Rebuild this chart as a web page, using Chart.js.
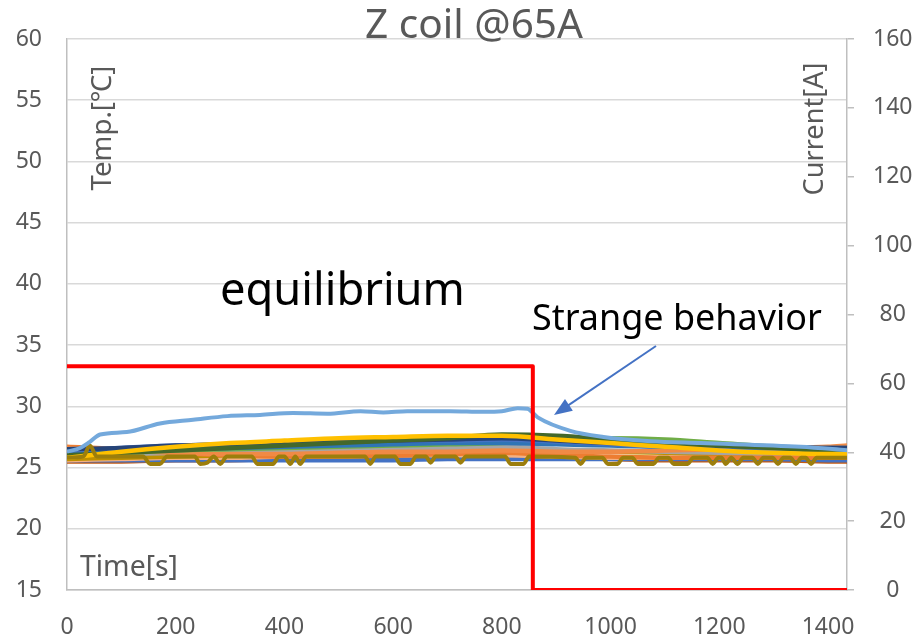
<!DOCTYPE html>
<html><head><meta charset="utf-8">
<script src="https://cdn.jsdelivr.net/npm/chart.js"></script>
<style>html,body{margin:0;padding:0;background:#fff}#wrap{width:920px;height:638px}</style>
</head><body><div id="wrap"><canvas id="c" width="920" height="638"></canvas></div>
<script>
// ---------- data ----------
const TITLE = "Z coil @65A";
const TEMP_LABEL = "Temp.[℃]";
const CURRENT_LABEL = "Current[A]";
const TIME_LABEL = "Time[s]";
const NOTE_EQ = "equilibrium";
const NOTE_STRANGE = "Strange behavior";

const xTicks = [0, 200, 400, 600, 800, 1000, 1200, 1400];
const X_MAX = 1435;

// common sampling times for the cluster of thermometers
const T = [0, 100, 200, 300, 400, 500, 600, 700, 800, 900, 1000, 1100, 1200, 1300, 1400, 1435];
const sYellow    = [25.8, 26.3, 26.7, 27.0, 27.2, 27.4, 27.5, 27.6, 27.6, 27.3, 27.0, 26.7, 26.4, 26.2, 26.1, 26.1];
const sBlue      = [26.4, 26.6, 26.8, 26.9, 27.0, 27.1, 27.2, 27.2, 27.3, 27.1, 26.9, 26.7, 26.6, 26.5, 26.5, 26.5];
const sDarkBlue  = [26.5, 26.6, 26.8, 26.9, 27.0, 27.1, 27.2, 27.3, 27.4, 27.2, 27.0, 26.9, 26.8, 26.7, 26.6, 26.6];
const sGreen     = [26.1, 26.2, 26.4, 26.5, 26.6, 26.7, 26.8, 26.9, 27.0, 27.3, 27.4, 27.3, 27.0, 26.7, 26.5, 26.5];
const sDarkGreen = [26.0, 26.2, 26.4, 26.6, 26.8, 27.0, 27.2, 27.4, 27.7, 27.6, 27.3, 27.0, 26.8, 26.6, 26.4, 26.4];
const sGray      = [26.0, 26.1, 26.2, 26.3, 26.3, 26.4, 26.5, 26.6, 26.7, 26.5, 26.4, 26.3, 26.2, 26.1, 26.1, 26.1];
const sGold      = [25.7, 25.8, 25.9, 26.0, 26.1, 26.2, 26.3, 26.4, 26.5, 26.4, 26.3, 26.2, 26.1, 26.0, 26.0, 26.0];
const sOrange    = [26.7, 26.5, 26.2, 26.0, 25.9, 25.9, 26.0, 26.1, 26.2, 26.0, 25.9, 25.8, 25.8, 25.8, 25.8, 25.8];
const sSalmon    = [25.6, 25.7, 25.8, 25.8, 25.9, 25.9, 26.0, 26.0, 26.0, 25.9, 25.8, 25.8, 25.8, 25.8, 25.8, 25.8];
const sRust      = [25.5, 25.5, 25.6, 25.6, 25.7, 25.7, 25.8, 25.8, 25.9, 25.8, 25.7, 25.6, 25.6, 25.6, 25.5, 25.5];
const sLtOrange  = [26.6, 26.4, 26.2, 26.1, 26.1, 26.2, 26.3, 26.3, 26.4, 26.3, 26.3, 26.4, 26.5, 26.6, 26.7, 26.8];
const sMidBlue   = [26.3, 26.4, 26.5, 26.6, 26.7, 26.8, 26.9, 27.0, 27.0, 26.9, 26.8, 26.7, 26.7, 26.6, 26.6, 26.6];
const sLowBlue   = [25.6, 25.6, 25.6, 25.6, 25.6, 25.6, 25.6, 25.7, 25.7, 25.7, 25.7, 25.7, 25.7, 25.7, 25.6, 25.6];

// the thermometer with the strange behaviour
const strangeT = [0, 24, 42, 61, 110, 171, 232, 295, 355, 416, 479, 540, 582, 626, 705, 766, 800, 829, 847, 866, 926, 987, 1074, 1166, 1350, 1437];
const strangeV = [26.3, 26.6, 27.1, 27.7, 27.9, 28.6, 28.9, 29.2, 29.3, 29.45, 29.4, 29.6, 29.5, 29.6, 29.6, 29.55, 29.6, 29.85, 29.8, 29.1, 28.0, 27.5, 27.15, 27.0, 26.7, 26.4];

// the olive thermometer with dips
const oliveT = [0, 30, 42, 55, 140, 153, 171, 184, 235, 245, 258, 270, 282, 294,
  340, 350, 365, 379, 390, 400, 411, 420, 429, 440, 548, 558, 568, 603, 613, 632, 642,
  660, 669, 678, 714, 724, 734, 806, 816, 840, 850,
  935, 945, 955, 985, 995, 1013, 1023, 1040, 1050, 1079, 1089, 1106, 1116, 1142, 1152,
  1178, 1188, 1198, 1204, 1212, 1222, 1234, 1244, 1261, 1271, 1281, 1298, 1308, 1318,
  1331, 1341, 1351, 1359, 1369, 1379, 1435];
const oliveV = [25.8, 25.9, 26.8, 25.9, 25.9, 25.3, 25.3, 25.9, 25.9, 25.3, 25.4, 25.9, 25.3, 25.9,
  25.9, 25.3, 25.3, 25.3, 25.9, 25.9, 25.3, 25.9, 25.3, 25.9, 25.9, 25.3, 25.9, 25.9, 25.3, 25.3, 25.9,
  25.9, 25.4, 25.9, 25.9, 25.4, 25.9, 25.9, 25.3, 25.3, 25.9,
  25.8, 25.3, 25.8, 25.8, 25.3, 25.3, 25.8, 25.8, 25.3, 25.3, 25.8, 25.8, 25.3, 25.3, 25.8,
  25.8, 25.3, 25.8, 25.8, 25.3, 25.8, 25.3, 25.8, 25.8, 25.3, 25.8, 25.8, 25.3, 25.8,
  25.8, 25.3, 25.8, 25.8, 25.3, 25.8, 25.8];

// coil current
const currentT = [0, 857, 857, 1435];
const currentV = [65, 65, 0, 0];

// ---------- chart ----------
const FONT = "'Noto Sans', 'Noto Sans CJK JP', sans-serif";
const GREY_TXT = '#595959';
const zip = (xs, ys) => xs.map((x, i) => ({ x: x, y: ys[i] }));

const cluster = [
  [sRust, '#C55A11'], [sLowBlue, '#4472C4'], [sSalmon, '#F4B183'], [sGold, '#BF9000'],
  [sGray, '#A5A5A5'], [sOrange, '#ED7D31'], [sLtOrange, '#F08A45'], [sGreen, '#70AD47'],
  [sMidBlue, '#2E75B6'], [sBlue, '#4472C4'], [sDarkBlue, '#264478'], [sDarkGreen, '#43682B'],
  [sYellow, '#FFC000']
];

const datasets = [];
datasets.push({ label: 'Current', data: zip(currentT, currentV), yAxisID: 'y2', borderColor: '#FF0000', borderWidth: 4, tension: 0, order: 0 });
datasets.push({ label: 'strange', data: zip(strangeT, strangeV), yAxisID: 'y', borderColor: '#74A9DC', borderWidth: 4, cubicInterpolationMode: 'monotone', order: 1 });
datasets.push({ label: 'olive', data: zip(oliveT, oliveV), yAxisID: 'y', borderColor: '#9C7E0C', borderWidth: 4, cubicInterpolationMode: 'monotone', order: 2 });
cluster.forEach((c, i) => {
  datasets.push({ label: 'T' + i, data: zip(T, c[0]), yAxisID: 'y', borderColor: c[1], borderWidth: 4.5, cubicInterpolationMode: 'monotone', order: 3 + (cluster.length - i) });
});

function fitFont(ctx, text, width, weight) {
  ctx.font = (weight || '') + ' 100px ' + FONT;
  const w = ctx.measureText(text).width;
  return 100 * width / w;
}

const textPlugin = {
  id: 'texts',
  afterDraw(chart) {
    const ctx = chart.ctx;
    ctx.save();
    // title
    ctx.fillStyle = GREY_TXT;
    ctx.textAlign = 'center';
    ctx.textBaseline = 'alphabetic';
    let s = fitFont(ctx, TITLE, 218);
    ctx.font = s + 'px ' + FONT;
    ctx.fillText(TITLE, 474, 38);
    // axis titles
    s = fitFont(ctx, TEMP_LABEL, 125);
    ctx.font = s + 'px ' + FONT;
    ctx.save(); ctx.translate(103, 128); ctx.rotate(-Math.PI / 2);
    ctx.textBaseline = 'middle'; ctx.fillText(TEMP_LABEL, 0, 0); ctx.restore();
    s = fitFont(ctx, CURRENT_LABEL, 133);
    ctx.font = s + 'px ' + FONT;
    ctx.save(); ctx.translate(815, 129); ctx.rotate(-Math.PI / 2);
    ctx.textBaseline = 'middle'; ctx.fillText(CURRENT_LABEL, 0, 0); ctx.restore();
    s = fitFont(ctx, TIME_LABEL, 98);
    ctx.font = s + 'px ' + FONT;
    ctx.textAlign = 'left'; ctx.textBaseline = 'middle';
    ctx.fillText(TIME_LABEL, 80, 568);
    // annotations
    ctx.fillStyle = '#000000';
    s = fitFont(ctx, NOTE_EQ, 245);
    ctx.font = s + 'px ' + FONT;
    ctx.textBaseline = 'alphabetic';
    ctx.fillText(NOTE_EQ, 220, 305);
    s = fitFont(ctx, NOTE_STRANGE, 290);
    ctx.font = s + 'px ' + FONT;
    ctx.fillText(NOTE_STRANGE, 532, 330);
    // arrow
    const x1 = 656, y1 = 346, x2 = 554, y2 = 415;
    const ang = Math.atan2(y2 - y1, x2 - x1);
    ctx.strokeStyle = '#4472C4'; ctx.fillStyle = '#4472C4'; ctx.lineWidth = 2;
    ctx.beginPath(); ctx.moveTo(x1, y1);
    ctx.lineTo(x2 - 14 * Math.cos(ang), y2 - 14 * Math.sin(ang)); ctx.stroke();
    ctx.beginPath(); ctx.moveTo(x2, y2);
    ctx.lineTo(x2 - 18 * Math.cos(ang) + 7 * Math.sin(ang), y2 - 18 * Math.sin(ang) - 7 * Math.cos(ang));
    ctx.lineTo(x2 - 18 * Math.cos(ang) - 7 * Math.sin(ang), y2 - 18 * Math.sin(ang) + 7 * Math.cos(ang));
    ctx.closePath(); ctx.fill();
    ctx.restore();
  }
};

new Chart(document.getElementById('c'), {
  type: 'line',
  data: { datasets: datasets },
  options: {
    responsive: false,
    animation: false,
    devicePixelRatio: 1,
    layout: { padding: { top: 39, left: 0, right: 0, bottom: 0 } },
    elements: { point: { radius: 0, hoverRadius: 0 }, line: { borderCapStyle: 'butt', borderJoinStyle: 'round' } },
    plugins: { legend: { display: false }, tooltip: { enabled: false }, title: { display: false } },
    scales: {
      x: {
        type: 'linear', min: 0, max: X_MAX,
        afterBuildTicks: (sc) => { sc.ticks = xTicks.map(v => ({ value: v })); },
        afterFit: (sc) => { sc.height = 48; },
        grid: { display: false, drawTicks: false },
        border: { display: true, color: '#bfbfbf', width: 1.5 },
        ticks: { color: GREY_TXT, font: { family: FONT, size: 23 }, padding: 24, maxRotation: 0, autoSkip: false,
                 callback: (v) => String(v) }
      },
      y: {
        type: 'linear', position: 'left', min: 15, max: 60,
        ticks: { stepSize: 5, color: GREY_TXT, font: { family: FONT, size: 23 }, padding: 25, crossAlign: 'center' },
        afterFit: (sc) => { sc.width = 67; },
        grid: { color: '#d9d9d9', lineWidth: 1.5, drawTicks: false },
        border: { display: true, color: '#bfbfbf', width: 1.5 }
      },
      y2: {
        type: 'linear', position: 'right', min: 0, max: 160,
        ticks: { stepSize: 20, color: GREY_TXT, font: { family: FONT, size: 23 }, padding: 19, crossAlign: 'center' },
        afterFit: (sc) => { sc.width = 73; },
        grid: { drawOnChartArea: false, drawTicks: true, tickLength: 7, color: '#bfbfbf', lineWidth: 1.5 },
        border: { display: true, color: '#bfbfbf', width: 1.5 }
      }
    }
  },
  plugins: [textPlugin]
});
</script>
</body></html>
